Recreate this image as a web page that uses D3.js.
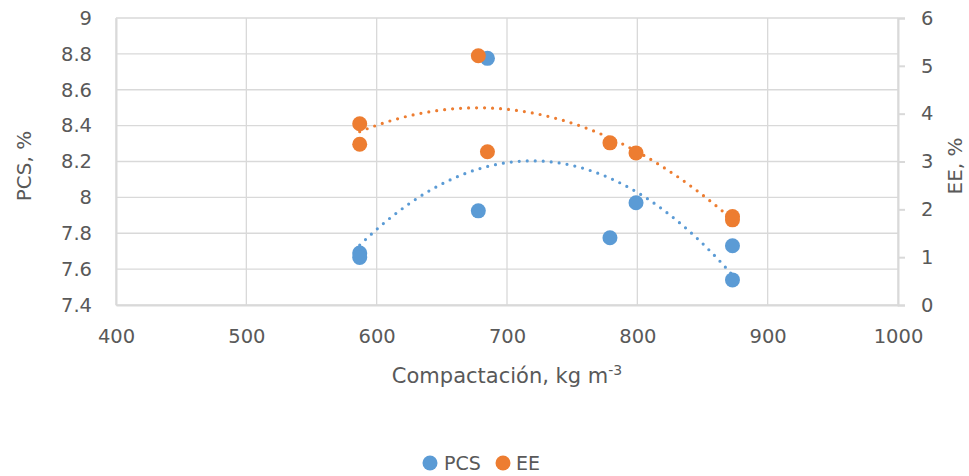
<!DOCTYPE html>
<html>
<head>
<meta charset="utf-8">
<script src="https://cdn.jsdelivr.net/npm/d3@7"></script>
<style>
  body { margin: 0; background: #fff; }
  svg { font-family: "DejaVu Sans", sans-serif; }
</style>
</head>
<body>
<div id="chart"></div>
<script>
// data
var compactacion = [587, 587, 678, 685, 779, 799, 873, 873];
var pcsValues    = [7.69, 7.665, 7.925, 8.775, 7.775, 7.97, 7.73, 7.54];
var eeValues     = [3.79, 3.36, 5.21, 3.205, 3.39, 3.18, 1.85, 1.78];
var xTicks  = [400, 500, 600, 700, 800, 900, 1000];
var yTicks  = [7.4, 7.6, 7.8, 8, 8.2, 8.4, 8.6, 8.8, 9];
var y2Ticks = [0, 1, 2, 3, 4, 5, 6];

var blue = "#5B9BD5", orange = "#ED7D31", grid = "#D9D9D9", txt = "#595959";
var font = "'DejaVu Sans', sans-serif";

var svg = d3.select("#chart").append("svg")
    .attr("width", 969).attr("height", 476);

var margin = {top: 18, right: 71, bottom: 171, left: 116},
    width = 969 - margin.left - margin.right,
    height = 476 - margin.top - margin.bottom;

var g = svg.append("g").attr("transform", "translate(" + margin.left + "," + margin.top + ")");

var x = d3.scaleLinear().domain([400, 1000]).range([0, width]),
    y = d3.scaleLinear().domain([7.4, 9]).range([height, 0]),
    y2 = d3.scaleLinear().domain([0, 6]).range([height, 0]);

// grid lines
g.selectAll(".hgrid").data(yTicks).enter().append("line")
    .attr("x1", 0).attr("x2", width)
    .attr("y1", function(d) { return y(d); }).attr("y2", function(d) { return y(d); })
    .attr("stroke", grid).attr("stroke-width", 1.3);
g.selectAll(".vgrid").data(xTicks).enter().append("line")
    .attr("y1", 0).attr("y2", height)
    .attr("x1", function(d) { return x(d); }).attr("x2", function(d) { return x(d); })
    .attr("stroke", grid).attr("stroke-width", 1.3);

// axes
var xAxis = g.append("g").attr("transform", "translate(0," + height + ")")
    .call(d3.axisBottom(x).tickValues(xTicks).tickSize(0).tickPadding(24).tickFormat(d3.format("d")));
var yAxis = g.append("g")
    .call(d3.axisLeft(y).tickValues(yTicks).tickSize(0).tickPadding(24).tickFormat(d3.format("")));
var y2Axis = g.append("g").attr("transform", "translate(" + width + ",0)")
    .call(d3.axisRight(y2).tickValues(y2Ticks).tickSize(7).tickPadding(16).tickFormat(d3.format("d")));

[xAxis, yAxis, y2Axis].forEach(function(a) {
    a.attr("font-family", null).attr("font-size", null);
    a.select(".domain").attr("stroke", grid).attr("stroke-width", 2);
    a.selectAll(".tick line").attr("stroke", grid).attr("stroke-width", 2);
    a.selectAll("text").attr("fill", txt).style("font-size", "19.5px")
        .style("font-family", font);
});

// quadratic least squares trendline
function polyFit(xs, ys) {
    var s = [0, 0, 0, 0, 0], t = [0, 0, 0];
    xs.forEach(function(xv, i) {
        var p = 1;
        for (var k = 0; k < 5; k++) { s[k] += p; if (k < 3) t[k] += p * ys[i]; p *= xv; }
    });
    var m = [[s[0], s[1], s[2], t[0]], [s[1], s[2], s[3], t[1]], [s[2], s[3], s[4], t[2]]];
    for (var i = 0; i < 3; i++) {
        for (var j = i + 1; j < 3; j++) {
            var f = m[j][i] / m[i][i];
            for (var k = i; k < 4; k++) m[j][k] -= f * m[i][k];
        }
    }
    var c = [0, 0, 0];
    for (var i = 2; i >= 0; i--) {
        var sum = m[i][3];
        for (var k = i + 1; k < 3; k++) sum -= m[i][k] * c[k];
        c[i] = sum / m[i][i];
    }
    return function(xv) { return c[0] + c[1] * xv + c[2] * xv * xv; };
}

var xs = d3.range(d3.min(compactacion), d3.max(compactacion) + 0.5, 2);

function drawTrend(vals, scale, color) {
    var fit = polyFit(compactacion, vals);
    var line = d3.line()
        .x(function(d) { return x(d); })
        .y(function(d) { return scale(fit(d)); });
    g.append("path").datum(xs)
        .attr("d", line)
        .attr("fill", "none")
        .attr("stroke", color)
        .attr("stroke-width", 3.2)
        .attr("stroke-linecap", "round")
        .attr("stroke-dasharray", "0,8");
}

drawTrend(pcsValues, y, blue);
drawTrend(eeValues, y2, orange);

// markers
g.selectAll(".pcs").data(compactacion).enter().append("circle")
    .attr("cx", function(d) { return x(d); })
    .attr("cy", function(d, i) { return y(pcsValues[i]); })
    .attr("r", 7.5).attr("fill", blue);
g.selectAll(".ee").data(compactacion).enter().append("circle")
    .attr("cx", function(d) { return x(d); })
    .attr("cy", function(d, i) { return y2(eeValues[i]); })
    .attr("r", 7.5).attr("fill", orange);

// axis titles
svg.append("text")
    .attr("transform", "translate(31,166) rotate(-90)")
    .attr("text-anchor", "middle")
    .attr("fill", txt).style("font-size", "20px")
    .text("PCS, %");
svg.append("text")
    .attr("transform", "translate(962,166) rotate(-90)")
    .attr("text-anchor", "middle")
    .attr("fill", txt).style("font-size", "20px")
    .text("EE, %");
var xt = svg.append("text")
    .attr("x", 507).attr("y", 383)
    .attr("text-anchor", "middle")
    .attr("fill", txt).style("font-size", "21px");
xt.append("tspan").text("Compactación, kg m");
xt.append("tspan").attr("dy", -8).style("font-size", "14px").text("-3");

// legend
var legend = svg.append("g");
[["PCS", blue, 430, 444], ["EE", orange, 503, 516]].forEach(function(l) {
    legend.append("circle").attr("cx", l[2]).attr("cy", 463).attr("r", 7.5).attr("fill", l[1]);
    legend.append("text").attr("x", l[3]).attr("y", 470)
        .attr("fill", txt).style("font-size", "19px").text(l[0]);
});
</script>
</body>
</html>
